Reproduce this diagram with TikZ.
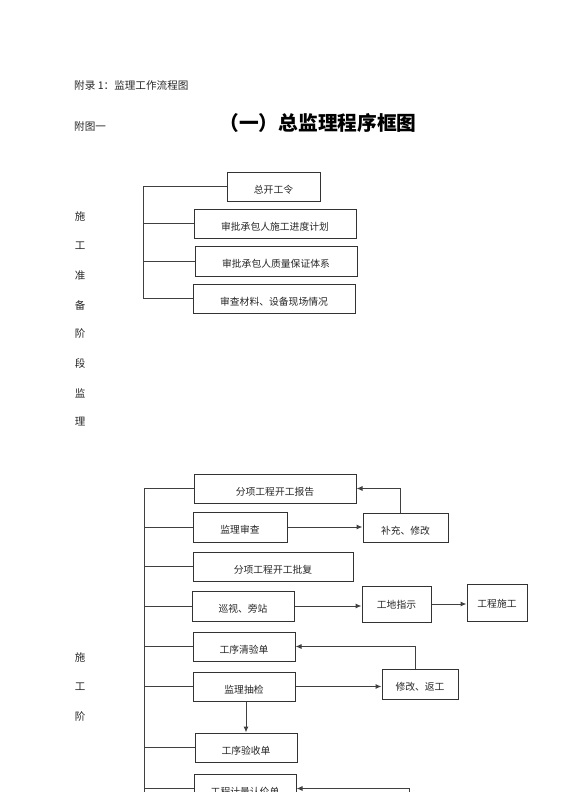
\documentclass[tikz,border=0pt]{standalone}
\usepackage{fontspec}
\setmainfont{Noto Sans CJK SC}
\usetikzlibrary{arrows.meta}
\tikzset{
  box/.style={draw=black!80, line width=1pt, inner sep=0pt, text height=7pt, text depth=2pt, font=\fontsize{9.8}{10}\selectfont, text=black!85},
  ln/.style={draw=black!75, line width=1pt},
  arr/.style={ln, -{Latex[length=6pt,width=5pt]}},
  side/.style={font=\fontsize{10.5}{11}\selectfont, text=black!85, inner sep=0pt},
  hdr/.style={font=\fontsize{10.6}{11}\selectfont, text=black!85, inner sep=0pt, anchor=west}
}
\newcommand{\bt}[1]{\raisebox{-4pt}{#1}}
\newcommand{\bs}[1]{\raisebox{-2pt}{#1}}
\begin{document}
\begin{tikzpicture}[x=1pt,y=-1pt]
\useasboundingbox (0,0) rectangle (560,792);
\clip (0,0) rectangle (560,792);
% header
\node[hdr] (h1) at (74,85) {附录 1：监理工作流程图};
\node[hdr] (h2) at (74,126) {附图一};
\node[font=\fontsize{19.7}{20}\selectfont\bfseries, inner sep=0pt] (title) at (318,123) {（一）总监理程序框图};
% section 1
\node[box, minimum width=93pt, minimum height=29pt] (s1) at (273.5,186.5) {\bt{总开工令}};
\node[box, minimum width=162pt, minimum height=29pt] (s2) at (275,223.5) {\bt{审批承包人施工进度计划}};
\node[box, minimum width=162pt, minimum height=30pt] (s3) at (276,261) {\bt{审批承包人质量保证体系}};
\node[box, minimum width=162pt, minimum height=29pt] (s4) at (274,298.5) {\bt{审查材料、设备现场情况}};
\coordinate (b1) at (143,186.5);
\coordinate (b4) at (143,298.5);
\draw[ln] (s1.west) -- (b1) -- (b4) -- (s4.west);
\draw[ln] (s2.west) -- (s2.west -| b1);
\draw[ln] (s3.west) -- (s3.west -| b1);
% side labels 1
\foreach \t/\y [count=\i] in {施/217,工/246,准/275.5,备/305,阶/334,段/363.5,监/393,理/422}
  \node[side] (sa\i) at (80,\y) {\t};
% section 2
\node[box, minimum width=162pt, minimum height=29pt] (t1) at (275,488.5) {\bt{分项工程开工报告}};
\node[box, minimum width=94pt, minimum height=30pt] (t2) at (240,527) {\bt{监理审查}};
\node[box, minimum width=85pt, minimum height=29pt] (r1) at (405.5,527.5) {\bt{补充、修改}};
\node[box, minimum width=160pt, minimum height=29pt] (t3) at (273,566.5) {\bt{分项工程开工批复}};
\node[box, minimum width=102pt, minimum height=30pt] (t4) at (243,606) {\bt{巡视、旁站}};
\node[box, minimum width=69pt, minimum height=36pt] (r2) at (396.5,604) {\bs{工地指示}};
\node[box, minimum width=60pt, minimum height=37pt] (r3) at (497,602.5) {\bs{工程施工}};
\node[box, minimum width=102pt, minimum height=29pt] (t5) at (244,646.5) {\bt{工序清验单}};
\node[box, minimum width=102pt, minimum height=29pt] (t6) at (244,686.5) {\bt{监理抽检}};
\node[box, minimum width=76pt, minimum height=30pt] (r4) at (420,684) {\bt{修改、返工}};
\node[box, minimum width=102pt, minimum height=29pt] (t7) at (246,747.5) {\bt{工序验收单}};
\node[box, minimum width=102pt, minimum height=29pt] (t8) at (245,788.5) {\bt{工程计量认价单}};
\coordinate (v1) at (144,488.5);
\coordinate (v2) at (144,800);
\draw[ln] (t1.west) -- (v1) -- (v2);
\foreach \n in {t2,t3,t4,t5,t6,t7,t8}
  \draw[ln] (\n.west) -- (\n.west -| v1);
\draw[arr] (t2.east) -- (t2.east -| r1.west);
\draw[arr] ([xshift=-5.5pt]r1.north) |- (t1.east);
\draw[arr] (t4.east) -- (t4.east -| r2.west);
\draw[arr] (r2.east) -- (r2.east -| r3.west);
\draw[arr] (t6.east) -- (t6.east -| r4.west);
\draw[arr] ([xshift=-5pt]r4.north) |- (t5.east);
\draw[arr] ([xshift=2pt]t6.south) -- ([xshift=2pt]t6.south |- t7.north);
\coordinate (f) at (409,800);
\draw[arr] (f) |- (t8.east);
% side labels 2
\foreach \t/\y [count=\i] in {施/657,工/687,阶/716}
  \node[side] (sb\i) at (80,\y) {\t};
\end{tikzpicture}
\end{document}
